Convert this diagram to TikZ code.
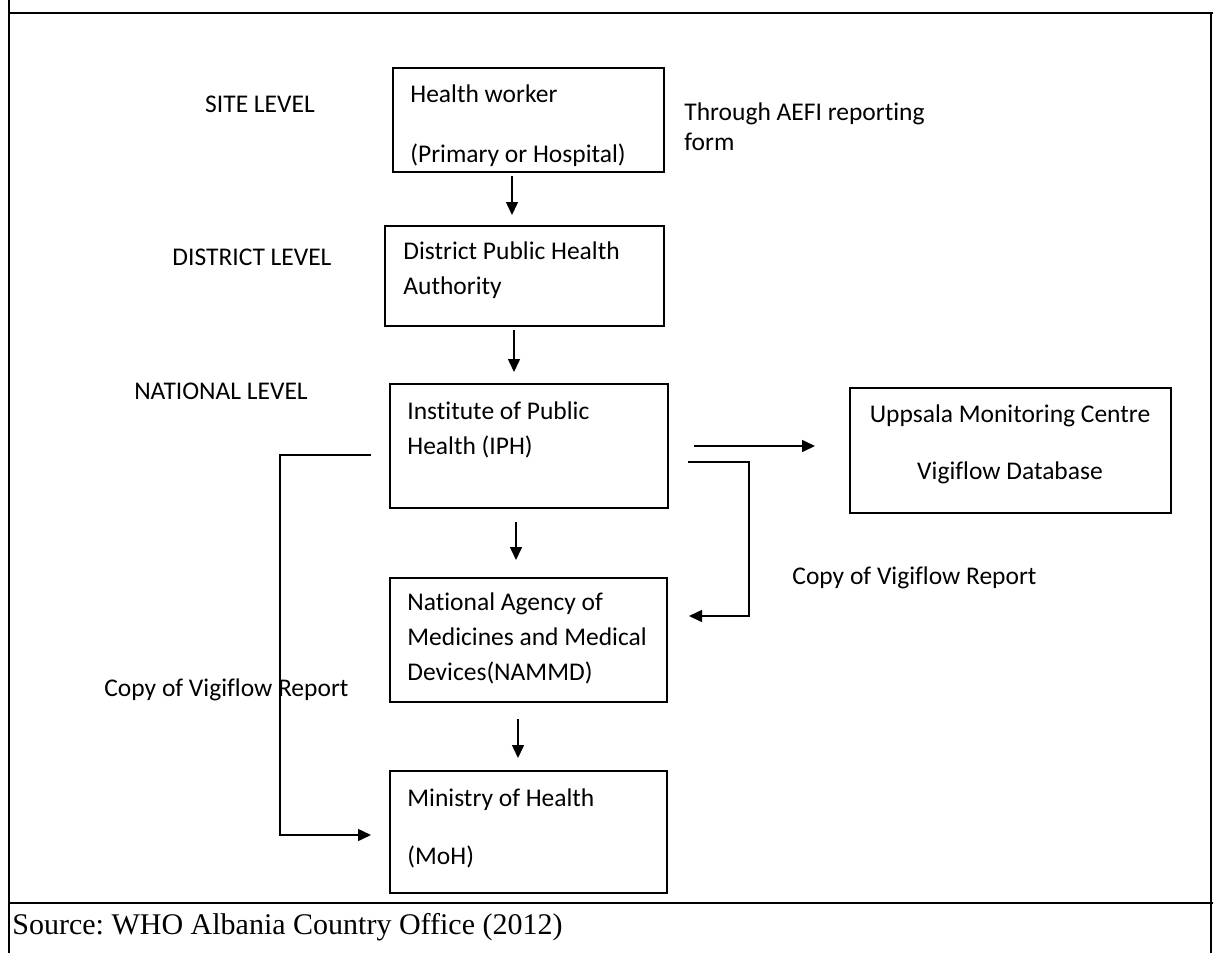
\documentclass[tikz,border=0pt]{standalone}
\usepackage{fontspec}
\setmainfont{Carlito}[Ligatures=NoCommon]
\newfontfamily\srcfont{Liberation Serif}
\usetikzlibrary{arrows.meta,positioning}

\tikzset{
	box/.style 2 args={draw, line width=0.8pt, minimum width=#1, minimum height=#2, anchor=north west, inner sep=0pt, outer sep=0pt},
	lbl/.style={font=\fontsize{12.75}{17.5}\selectfont, align=left, inner sep=0pt},
	arr/.style={line width=0.75pt, -{Triangle[length=6.5pt,width=6pt]}},
	src/.style={font=\srcfont\fontsize{15}{18}\selectfont\frenchspacing, inner sep=0pt, anchor=west}
}

\begin{document}
\begin{tikzpicture}[x=0.5pt,y=-0.5pt]

	\useasboundingbox (0,0) rectangle (1213,953);
	\draw[line width=0.6pt] (9,0) -- (9,953);
	\draw[line width=0.6pt] (1211,13) -- (1211,953);
	\draw[line width=1.2pt] (9,13) -- (1213,13);
	\draw[line width=1.2pt] (9,903) -- (1213,903);

	\node[box={135.5pt}{52pt}] (hw) at (393,68) {};
	\node[box={139.5pt}{50pt}] (dpha) at (385,226) {};
	\node[box={139pt}{62pt}] (iph) at (390,384) {};
	\node[box={138.5pt}{62pt}] (nammd) at (390,578) {};
	\node[box={138.5pt}{61pt}] (moh) at (390,771) {};
	\node[box={160.5pt}{62.5pt}] (umc) at (850,388) {};

	\node[lbl, anchor=north west] (hwtext) at (410,84) {Health worker\\[12.5pt](Primary or Hospital)};
	\node[lbl, anchor=north west] (dphatext) at (403,241) {District Public Health\\Authority};
	\node[lbl, anchor=north west] (iphtext) at (407,401) {Institute of Public\\Health (IPH)};
	\node[lbl, anchor=north west] (nammdtext) at (407,592) {National Agency of\\Medicines and Medical\\Devices(NAMMD)};
	\node[lbl, anchor=north west] (mohtext) at (407,788) {Ministry of Health\\[11.5pt](MoH)};
	\node[lbl, anchor=north, align=center] (umctext) at (1010,404) {Uppsala Monitoring Centre\\[11pt]Vigiflow Database};

	\node[lbl] (site) at (260,104) {SITE LEVEL};
	\node[lbl] (district) at (252,257) {DISTRICT LEVEL};
	\node[lbl] (national) at (221,391) {NATIONAL LEVEL};
	\node[lbl, anchor=north west] (form) at (684,102) {Through AEFI reporting\\[-2.5pt]form};
	\node[lbl, anchor=west] (copyright) at (792,578) {Copy of Vigiflow Report};
	\node[lbl, anchor=west] (copyleft) at (104,690) {Copy of Vigiflow Report};

	\draw[arr, shorten <=2pt, shorten >=5.5pt] ([xshift=-8.25pt]hw.south) -- ([xshift=-8.25pt]hw.south |- dpha.north);
	\draw[arr, shorten <=2pt, shorten >=6pt] ([xshift=-5.25pt]dpha.south) -- ([xshift=-5.25pt]dpha.south |- iph.north);
	\draw[arr, shorten <=7pt, shorten >=9pt] ([xshift=-6.5pt]iph.south) -- ([xshift=-6.5pt]iph.south |- nammd.north);
	\draw[arr, shorten <=8.5pt, shorten >=6.5pt] ([xshift=-5.25pt]nammd.south) -- ([xshift=-5.25pt]nammd.south |- moh.north);

	\draw[arr, shorten <=13pt, shorten >=17.5pt] (iph.east) -- (iph.east -| umc.west);
	\draw[arr, shorten <=10pt, shorten >=11pt] ([yshift=-8pt]iph.east) -- ++(81,0) |- ([yshift=12pt]nammd.east);
	\draw[arr, shorten <=9.5pt, shorten >=9.5pt] ([yshift=-4.5pt]iph.west) -- ++(-110,0) |- ([yshift=-1.5pt]moh.west);

	\node[src] (source) at (12,927) {Source: WHO Albania Country Office (2012)};

\end{tikzpicture}
\end{document}
